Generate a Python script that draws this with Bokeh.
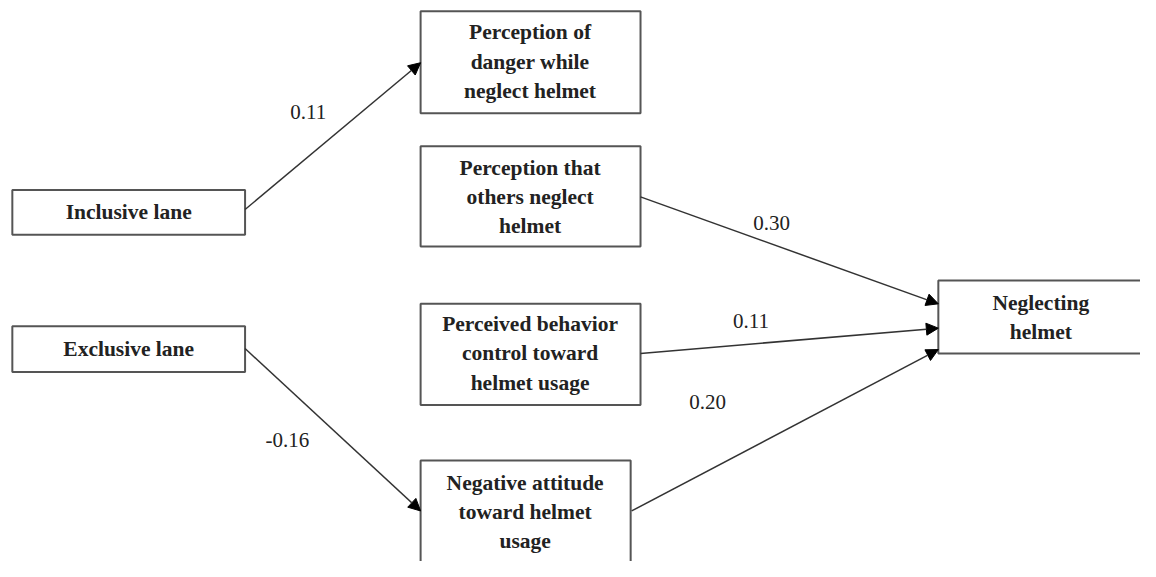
from bokeh.plotting import figure
from bokeh.models import Range1d, Arrow, NormalHead, ColumnDataSource
from bokeh.core.properties import value
from bokeh.embed import file_html
from bokeh.resources import INLINE

# ---- data ----
node_labels = [
    "Inclusive lane",
    "Exclusive lane",
    "Perception of\ndanger while\nneglect helmet",
    "Perception that\nothers neglect\nhelmet",
    "Perceived behavior\ncontrol toward\nhelmet usage",
    "Negative attitude\ntoward helmet\nusage",
    "Neglecting\nhelmet",
]
path_from = [0, 1, 3, 4, 5]
path_to = [2, 5, 6, 6, 6]
path_coef = ["0.11", "-0.16", "0.30", "0.11", "0.20"]

# ---- layout (pixel-like coordinates, y downwards) ----
box_left = [12, 12, 426, 426, 426, 426, 951]
box_right = [248, 248, 649, 649, 649, 639, 1170]
box_top = [195, 335, 11, 150, 312, 473, 288]
box_bottom = [241, 382, 116, 253, 416, 600, 363]
text_x = [130, 130, 537, 537, 537, 532, 1055]
text_y = [218, 358, 63, 202, 363, 526, 326]

arrow_x0 = [248, 248, 649, 649, 640]
arrow_y0 = [215, 358, 202, 363, 525]
arrow_x1 = [426, 426, 951, 951, 951]
arrow_y1 = [64, 525, 312, 337, 359]
coef_x = [312, 291, 782, 761, 717]
coef_y = [115, 452, 229, 330, 413]

p = figure(width=1140, height=561, output_backend="svg", toolbar_location=None,
           x_range=Range1d(0, 1156), y_range=Range1d(577, 0),
           min_border=0)
p.axis.visible = False
p.grid.visible = False
p.outline_line_color = None

p.quad(left=box_left, right=box_right, top=box_top, bottom=box_bottom,
       fill_color="white", line_color="#555555", line_width=2)

p.text(x=text_x, y=text_y, text=node_labels, text_align="center",
       text_baseline="middle", text_font=value("Liberation Serif"),
       text_font_size="21.5px", text_font_style="bold", text_color="#222222",
       text_line_height=1.22)

src = ColumnDataSource(dict(x0=arrow_x0, y0=arrow_y0, x1=arrow_x1, y1=arrow_y1))
p.add_layout(Arrow(end=NormalHead(size=12, fill_color="black", line_color="black"),
                   x_start="x0", y_start="y0", x_end="x1", y_end="y1",
                   source=src, line_color="#333333", line_width=1.5))

p.text(x=coef_x, y=coef_y, text=path_coef, text_align="center",
       text_baseline="middle", text_font=value("Liberation Serif"),
       text_font_size="21px", text_color="#222222")

open("out.html", "w").write(file_html(p, INLINE))
